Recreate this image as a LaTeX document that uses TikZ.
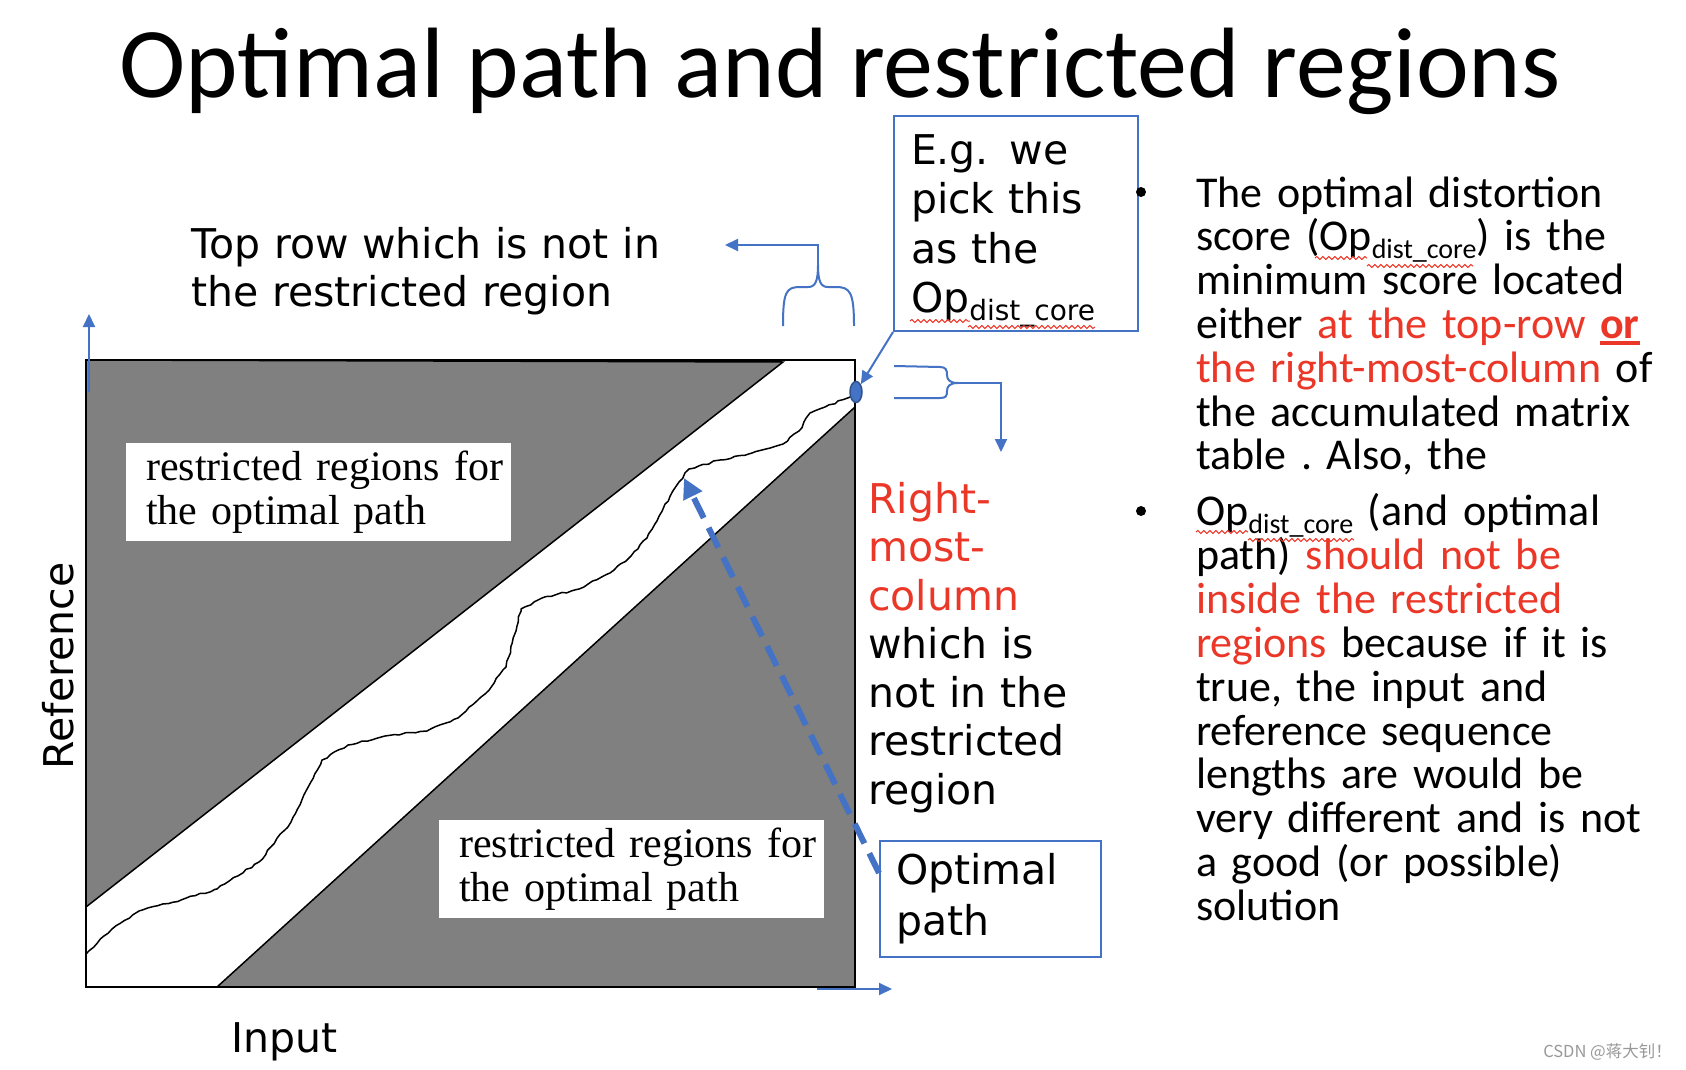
\documentclass[tikz,border=0pt]{standalone}
\usepackage{fontspec}
\setmainfont{Carlito}
\newfontfamily\labelfont{DejaVu Sans}
\newfontfamily\figfont{Liberation Serif}
\newfontfamily\cjkfont{Noto Sans CJK SC}
\usetikzlibrary{arrows.meta,positioning,shapes.geometric,decorations.pathmorphing}

\definecolor{pptblue}{RGB}{68,114,196}
\definecolor{darkblue}{RGB}{47,82,143}
\definecolor{pptred}{RGB}{235,55,40}
\definecolor{regiongray}{RGB}{128,128,128}

\newcommand{\opdist}{Op\raisebox{-8pt}{\fontsize{28}{28}\selectfont dist\_core}}
\newsavebox{\orbox}
\newcommand{\boldor}{\sbox{\orbox}{\bfseries or}\usebox{\orbox}\llap{\rule[-7pt]{\wd\orbox}{4pt}}}

\tikzset{
  note/.style        = {font=\labelfont\fontsize{41}{48.5}\selectfont, inner sep=0pt, align=left},
  bluebox/.style     = {note, draw=pptblue, line width=2pt, inner ysep=0pt},
  regionlabel/.style = {fill=white, font=\figfont\fontsize{42}{44}\selectfont, align=left,
                        text width=385pt, inner xsep=0pt, minimum height=98pt},
  bodytext/.style    = {font=\fontsize{44}{43.8}\selectfont\frenchspacing, align=left,
                        inner sep=0pt, text width=520pt},
  bulletdot/.style   = {circle, fill=black, minimum size=10pt, inner sep=0pt},
  bluethin/.style    = {draw=pptblue, line width=2pt},
  bluearrow/.style   = {bluethin, -{Triangle[length=13pt,width=12pt]}},
  dasharrow/.style   = {draw=pptblue, line width=6pt, dash pattern=on 22pt off 11pt,
                        -{Triangle[length=20pt,width=20pt]}},
  squiggle/.style    = {draw=pptred, line width=1pt, decorate,
                        decoration={snake, amplitude=1.5pt, segment length=6pt}}
}

\begin{document}
\begin{tikzpicture}[x=1pt,y=-1pt]
\useasboundingbox (0,0) rectangle (1686,1070);
\fill[white] (0,0) rectangle (1686,1070);
\pgfmathsetseed{7}

% title
\node[font=\fontsize{100}{120}\selectfont, inner sep=0pt, anchor=base] (title) at (840,98)
  {Optimal path and restricted regions};

% the accumulated matrix with its two restricted regions
\fill[regiongray, draw=black, line width=1.5pt] (86,360) -- (783,362) -- (86,907) -- cycle;
\fill[regiongray, draw=black, line width=1.5pt] (855,407) -- (855,987) -- (217,987) -- cycle;
\draw[black, line width=1.5pt, line join=round,
  decorate, decoration={random steps, segment length=5pt, amplitude=0.9pt}]
  plot coordinates {
  (86,954) (112,929) (139,911) (181,900) (217,889) (259,862) (291,822) (306,791)
  (322,760) (348,745) (385,736) (427,731) (458,718) (485,694) (506,667) (516,631)
  (521,609) (542,598) (579,589) (610,573) (631,556) (647,538) (663,509) (679,482)
  (689,469) (720,460) (752,453) (783,444) (799,431) (810,413) (825,407) (852,396)};
\draw[black, line width=2.5pt] (86,360) rectangle (855,987);
\coordinate (pathmark) at (684,478);

\node[regionlabel, anchor=north west] (upperlabel) at (126,443)
  {\hspace*{20pt}restricted regions for\\ \hspace*{20pt}the optimal path};
\node[regionlabel, anchor=north west] (lowerlabel) at (439,820)
  {\hspace*{20pt}restricted regions for\\ \hspace*{20pt}the optimal path};

% axes
\coordinate (yfoot) at (89,392);
\coordinate (ytop) at (89,314);
\coordinate (xfoot) at (817,989);
\coordinate (xtip) at (892,989);
\draw[bluearrow] (yfoot) -- (ytop);
\draw[bluearrow] (xfoot) -- (xtip);
\node[note, anchor=base west] (inputlabel) at (231,1052) {Input};
\node[note, rotate=90, anchor=base] (reflabel) at (73,666) {Reference};

% top row
\node[note, text width=500pt, anchor=base west] (toprow) at (191,258)
  {Top row which is not in\\ the restricted region};
\coordinate (topbrace) at (818,265);
\coordinate (toprowend) at (725,245);
\draw[bluethin] (783,326) .. controls (783,292) and (786,287) .. (800,287) -- (808,287)
  .. controls (815,287) and (818,282) .. (topbrace)
  .. controls (818,282) and (821,287) .. (828,287) -- (836,287)
  .. controls (850,287) and (854,292) .. (854,326);
\draw[bluearrow] (topbrace) |- (toprowend);

% right-most column
\node[note, text width=240pt, anchor=base west] (rightcol) at (868,513)
  {\textcolor{pptred}{Right-}\\ \textcolor{pptred}{most-}\\ \textcolor{pptred}{column}\\
   which is\\ not in the\\ restricted\\ region};
\coordinate (rightbrace) at (958,383);
\coordinate (rightcolend) at (1001,452);
\draw[bluethin] (894,366) -- (940,367) .. controls (946,367) and (947,370) .. (947,375)
  .. controls (947,380) and (950,383) .. (rightbrace)
  .. controls (950,383) and (947,386) .. (947,391)
  .. controls (947,396) and (946,398) .. (940,398) -- (894,398);
\draw[bluearrow] (rightbrace) -| (rightcolend);

% picked score and the optimal path
\node[bluebox, font=\labelfont\fontsize{41}{49.5}\selectfont, text width=210pt, inner xsep=17pt,
  minimum height=215pt, anchor=north west]
  (pickbox) at (893,115) {E.g. we\\ pick this\\ as the\\ \raisebox{0pt}[\height][0pt]{\opdist}};
\node[ellipse, draw=darkblue, fill=pptblue, line width=1.5pt, minimum width=12pt,
  minimum height=21pt, inner sep=0pt] (optend) at (856,392) {};
\draw[bluearrow] (pickbox.south west) -- (optend);

\node[bluebox, font=\labelfont\fontsize{41}{51}\selectfont, text width=189pt, inner xsep=16pt,
  minimum height=116pt, anchor=north west] (optbox) at (879,840) {Optimal\\ path};
\draw[dasharrow] ([yshift=-33pt]optbox.north west) -- (pathmark);

% explanation
\node[bulletdot] (dot1) at (1141,192) {};
\node[bodytext, anchor=base west] (point1) at (1196,207)
  {The optimal distortion\\ score (\opdist) is the\\ minimum score located\\
   either \textcolor{pptred}{at the top-row \boldor}\\
   \textcolor{pptred}{the right-most-column} of\\ the accumulated matrix\\ table . Also, the};
\node[bulletdot] (dot2) at (1141,511) {};
\node[bodytext, anchor=base west] (point2) at (1196,525)
  {\opdist\ (and optimal\\ path) \textcolor{pptred}{should not be}\\
   \textcolor{pptred}{inside the restricted}\\ \textcolor{pptred}{regions} because if it is\\
   true, the input and\\ reference sequence\\ lengths are would be\\
   very different and is not\\ a good (or possible)\\ solution};

% spell-check marks
\draw[squiggle] (910,321) -- (970,321);
\draw[squiggle] (968,327) -- (1095,327);
\draw[squiggle] (1315,258) -- (1367,258);
\draw[squiggle] (1367,266) -- (1473,266);
\draw[squiggle] (1196,532) -- (1248,532);
\draw[squiggle] (1248,540) -- (1354,540);

\node[font=\cjkfont\fontsize{16.5}{20}\selectfont, text=gray!80, inner sep=0pt, anchor=base east]
  (watermark) at (1672,1057) {CSDN @蒋大钊！};
\end{tikzpicture}
\end{document}
